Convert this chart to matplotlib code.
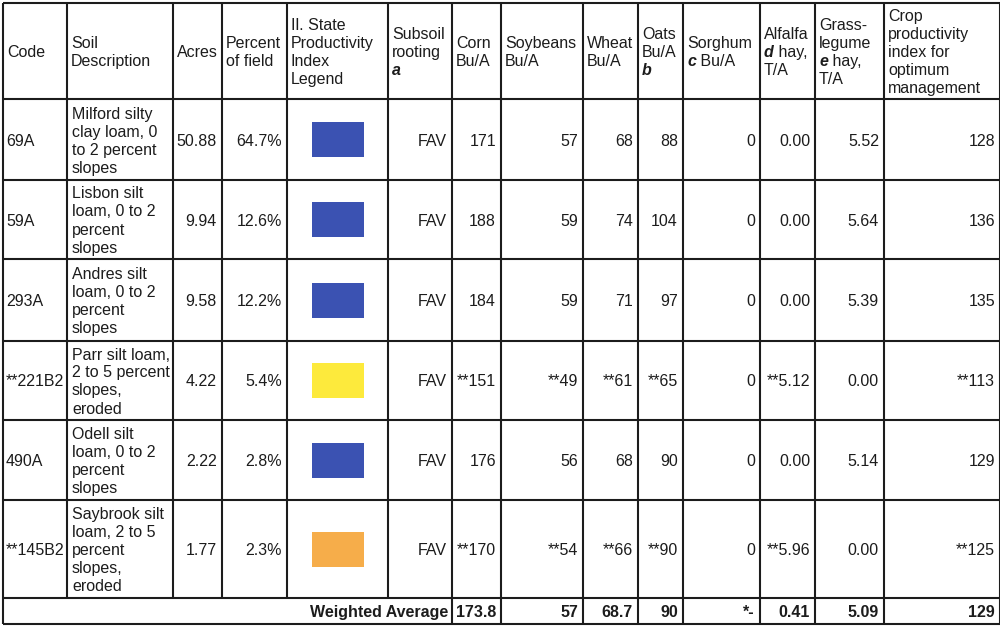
"""Soil productivity table for the field, redrawn as a matplotlib figure.

Writes out.png.
"""
import matplotlib
matplotlib.use("Agg")
import matplotlib.pyplot as plt
from matplotlib.patches import Rectangle

# ---- data -------------------------------------------------------------
codes = ["69A", "59A", "293A", "**221B2", "490A", "**145B2"]
descriptions = [
    "Milford silty\nclay loam, 0\nto 2 percent\nslopes",
    "Lisbon silt\nloam, 0 to 2\npercent\nslopes",
    "Andres silt\nloam, 0 to 2\npercent\nslopes",
    "Parr silt loam,\n2 to 5 percent\nslopes,\neroded",
    "Odell silt\nloam, 0 to 2\npercent\nslopes",
    "Saybrook silt\nloam, 2 to 5\npercent\nslopes,\neroded",
]
acres = [50.88, 9.94, 9.58, 4.22, 2.22, 1.77]
percent_field = [64.7, 12.6, 12.2, 5.4, 2.8, 2.3]
legend_colors = ["#3b52b2", "#3b52b2", "#3b52b2", "#fdea3c", "#3b52b2", "#f6ad4a"]
rooting = ["FAV", "FAV", "FAV", "FAV", "FAV", "FAV"]
eroded = [False, False, False, True, False, True]   # values marked with **
corn = [171, 188, 184, 151, 176, 170]
soybeans = [57, 59, 59, 49, 56, 54]
wheat = [68, 74, 71, 61, 68, 66]
oats = [88, 104, 97, 65, 90, 90]
sorghum = [0, 0, 0, 0, 0, 0]
alfalfa = [0.00, 0.00, 0.00, 5.12, 0.00, 5.96]
grass_legume = [5.52, 5.64, 5.39, 0.00, 5.14, 0.00]
crop_index = [128, 136, 135, 113, 129, 125]
weighted_label = "Weighted Average"
weighted_avg = ["173.8", "57", "68.7", "90", "*-", "0.41", "5.09", "129"]

# header lines; each line is a list of (text, bold_italic) pieces
headers = [
    [[("Code", False)]],
    [[("Soil", False)], [("Description", False)]],
    [[("Acres", False)]],
    [[("Percent", False)], [("of field", False)]],
    [[("Il. State", False)], [("Productivity", False)], [("Index", False)], [("Legend", False)]],
    [[("Subsoil", False)], [("rooting", False)], [("a", True)]],
    [[("Corn", False)], [("Bu/A", False)]],
    [[("Soybeans", False)], [("Bu/A", False)]],
    [[("Wheat", False)], [("Bu/A", False)]],
    [[("Oats", False)], [("Bu/A", False)], [("b", True)]],
    [[("Sorghum", False)], [("c", True), (" Bu/A", False)]],
    [[("Alfalfa", False)], [("d", True), (" hay,", False)], [("T/A", False)]],
    [[("Grass-", False)], [("legume", False)], [("e", True), (" hay,", False)], [("T/A", False)]],
    [[("Crop", False)], [("productivity", False)], [("index for", False)],
     [("optimum", False)], [("management", False)]],
]

# ---- layout (pixels of the 1000x627 page) ------------------------------
col_edges = [3, 67, 173, 222, 287, 388, 452, 501, 583, 638, 683, 760, 815, 884, 1000]
row_edges = [3, 99, 180, 259, 341, 420, 500, 598, 624]
line_h = 18.0
pad = 5
ink = "#1c1c1c"
fs = 11.5
plt.rcParams["font.family"] = ["Liberation Sans", "DejaVu Sans"]


def put_line(ax, x, y, pieces, ha="left", bold=False):
    # draw one text line made of pieces; y is the baseline
    first = None
    prev = None
    for txt, bi in pieces:
        kw = dict(fontsize=fs, color=ink,
                  fontweight="bold" if (bi or bold) else "normal",
                  fontstyle="italic" if bi else "normal")
        if prev is None:
            prev = ax.text(x, y, txt, ha=ha, va="baseline", **kw)
            first = prev
        else:
            prev = ax.annotate(txt, xy=(1, 0), xycoords=prev, ha="left",
                               va="bottom", **kw)
    return first


def put_block(ax, x, top, bottom, lines, ha="left", bold=False):
    mid = (top + bottom) / 2
    n = len(lines)
    for i, pieces in enumerate(lines):
        y = mid + (i - (n - 1) / 2) * line_h + 6
        put_line(ax, x, y, pieces, ha=ha, bold=bold)


def fmt(v, flag, spec):
    s = format(v, spec)
    return "**" + s if flag else s


def main():
    fig = plt.figure(figsize=(10, 6.27), dpi=100)
    ax = fig.add_axes([0, 0, 1, 1])
    ax.set_xlim(0, 1000)
    ax.set_ylim(627, 0)
    ax.axis("off")

    # grid
    for y in row_edges:
        ax.plot([col_edges[0], col_edges[-1]], [y, y], color=ink, lw=1.5,
                solid_capstyle="butt")
    for j, x in enumerate(col_edges):
        bottom = row_edges[-1] if (j == 0 or j >= 6) else row_edges[-2]
        ax.plot([x, x], [row_edges[0], bottom], color=ink, lw=1.5,
                solid_capstyle="butt")

    # header
    for j, lines in enumerate(headers):
        put_block(ax, col_edges[j] + 4, row_edges[0], row_edges[1], lines)

    # body rows
    for i in range(len(codes)):
        top, bot = row_edges[i + 1], row_edges[i + 2]
        mid = (top + bot) / 2
        base = mid + 6
        f = eroded[i]
        put_line(ax, col_edges[0] + 3, base, [(codes[i], False)])
        put_block(ax, col_edges[1] + 5, top, bot,
                  [[(s, False)] for s in descriptions[i].split("\n")])
        cells = [
            f"{acres[i]:.2f}",
            f"{percent_field[i]:.1f}%",
            None,
            rooting[i],
            fmt(corn[i], f, "d"),
            fmt(soybeans[i], f, "d"),
            fmt(wheat[i], f, "d"),
            fmt(oats[i], f, "d"),
            fmt(sorghum[i], False, "d"),
            fmt(alfalfa[i], f, ".2f"),
            fmt(grass_legume[i], False, ".2f"),
            fmt(crop_index[i], f, "d"),
        ]
        for k, s in enumerate(cells):
            j = k + 2
            if s is None:
                cx = (col_edges[j] + col_edges[j + 1]) / 2
                ax.add_patch(Rectangle((cx - 26, mid - 17.5), 52, 35,
                                       facecolor=legend_colors[i],
                                       edgecolor="none"))
                continue
            put_line(ax, col_edges[j + 1] - pad, base, [(s, False)], ha="right")

    # weighted average row
    top, bot = row_edges[-2], row_edges[-1]
    base = (top + bot) / 2 + 6
    put_line(ax, col_edges[6] - 4, base, [(weighted_label, False)], ha="right",
             bold=True)
    for k, s in enumerate(weighted_avg):
        put_line(ax, col_edges[7 + k] - pad, base, [(s, False)], ha="right",
                 bold=True)

    fig.savefig("out.png", dpi=100, facecolor="white")


if __name__ == "__main__":
    main()
